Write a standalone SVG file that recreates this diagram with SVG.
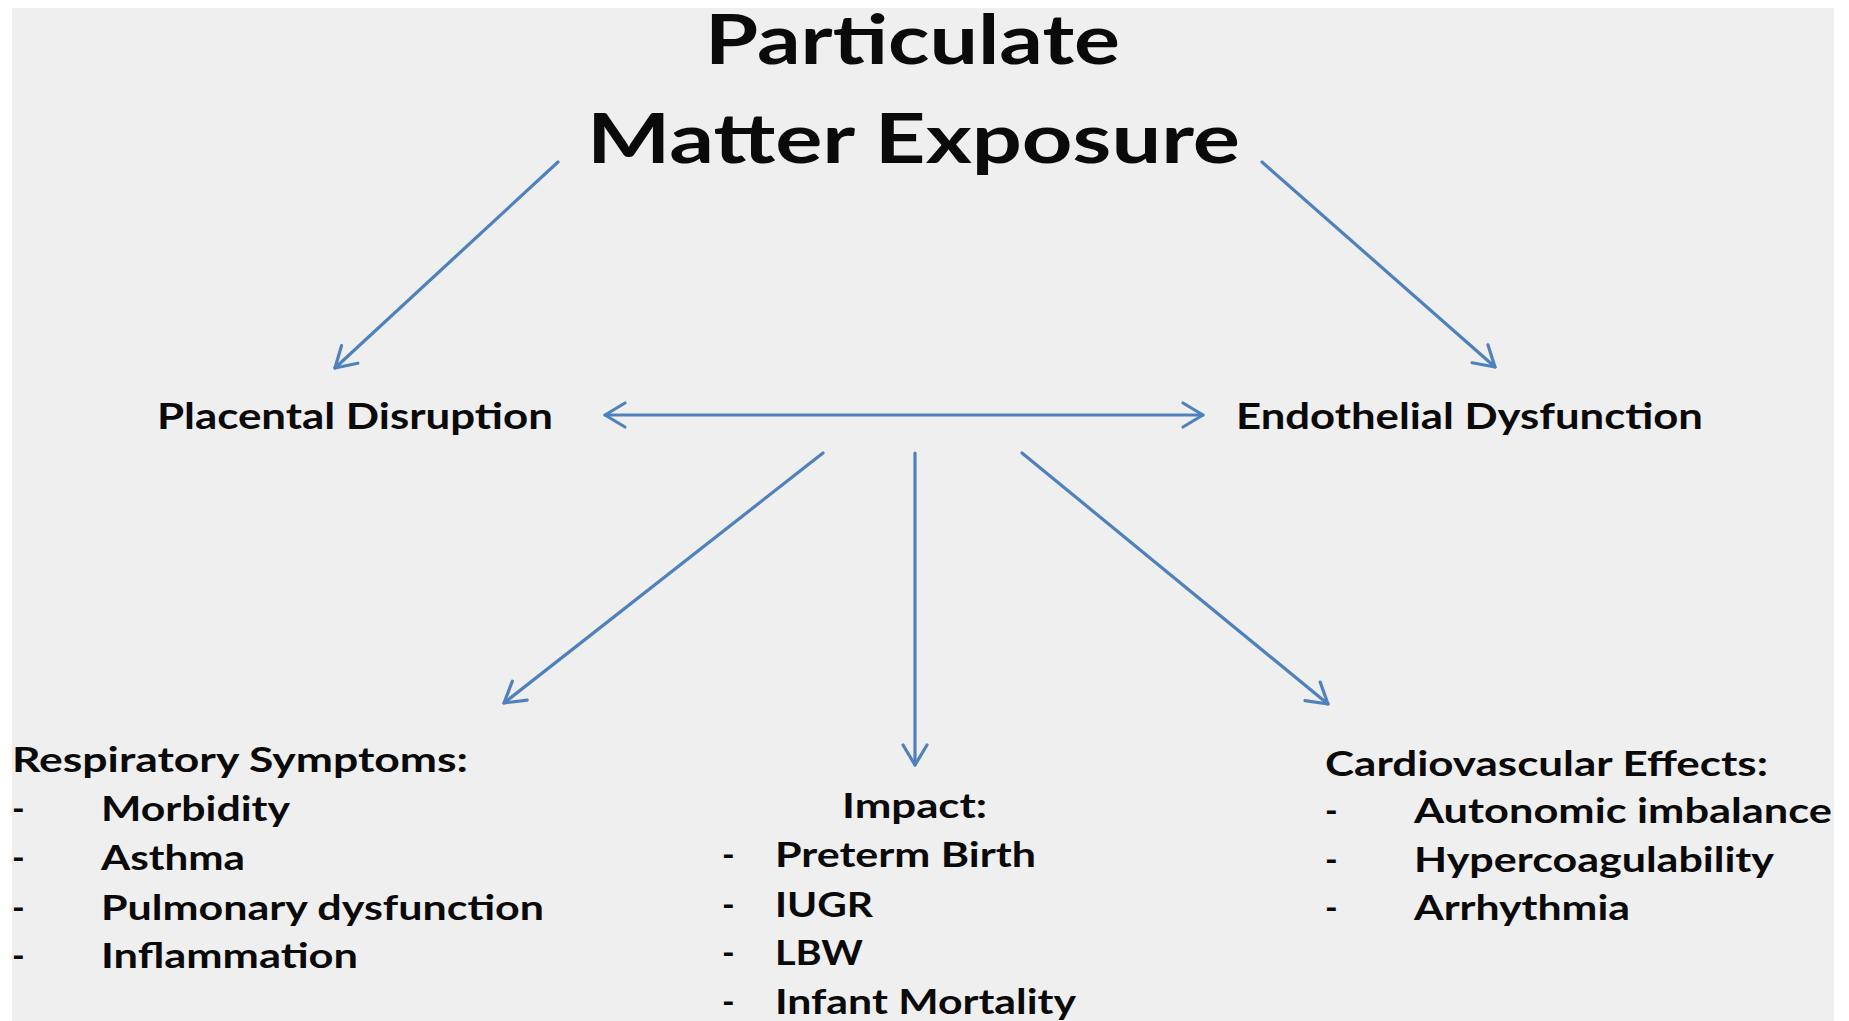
<svg xmlns="http://www.w3.org/2000/svg" width="1849" height="1021" viewBox="0 0 1849 1021">
  <style>
    .t { font-family: Lato, "Open Sans", "Liberation Sans", sans-serif; font-weight: bold; fill: #0a0a0a; }
    .title { font-size: 68px; }
    .node { font-size: 36px; }
    .list { font-size: 34px; }
    .conn { stroke: #4f81bd; stroke-width: 3.2; fill: none; stroke-linecap: round; }
  </style>
  <defs>
    <marker id="arr" markerUnits="userSpaceOnUse" markerWidth="30" markerHeight="30" refX="0" refY="0" viewBox="-24 -15 28 30" orient="auto-start-reverse" overflow="visible">
      <path d="M-20,-12 L0,0 L-20,12" fill="none" stroke="#4f81bd" stroke-width="3.2" stroke-linecap="round" stroke-linejoin="round"/>
    </marker>
  </defs>
  <rect x="0" y="0" width="1849" height="1021" fill="#ffffff"/>
  <rect x="12" y="8" width="1822" height="1013" fill="#efefef"/>

  <g id="title">
    <text class="t title" x="705" y="64" textLength="415" lengthAdjust="spacingAndGlyphs">Particulate</text>
    <text class="t title" x="587" y="163" textLength="653" lengthAdjust="spacingAndGlyphs">Matter Exposure</text>
  </g>

  <g id="placental">
    <text class="t node" x="157" y="429" textLength="396" lengthAdjust="spacingAndGlyphs">Placental Disruption</text>
  </g>

  <g id="endothelial">
    <text class="t node" x="1236" y="429" textLength="467" lengthAdjust="spacingAndGlyphs">Endothelial Dysfunction</text>
  </g>

  <g id="respiratory">
    <text class="t list" x="12" y="772" textLength="456" lengthAdjust="spacingAndGlyphs">Respiratory Symptoms:</text>
    <text class="t list" x="12" y="821">-</text>
    <text class="t list" x="101" y="821" textLength="189" lengthAdjust="spacingAndGlyphs">Morbidity</text>
    <text class="t list" x="12" y="870">-</text>
    <text class="t list" x="101" y="870" textLength="144" lengthAdjust="spacingAndGlyphs">Asthma</text>
    <text class="t list" x="12" y="920">-</text>
    <text class="t list" x="101" y="920" textLength="443" lengthAdjust="spacingAndGlyphs">Pulmonary dysfunction</text>
    <text class="t list" x="12" y="968">-</text>
    <text class="t list" x="101" y="968" textLength="257" lengthAdjust="spacingAndGlyphs">Inflammation</text>
  </g>

  <g id="impact">
    <text class="t list" x="842" y="818" textLength="145" lengthAdjust="spacingAndGlyphs">Impact:</text>
    <text class="t list" x="722" y="867">-</text>
    <text class="t list" x="775" y="867" textLength="261" lengthAdjust="spacingAndGlyphs">Preterm Birth</text>
    <text class="t list" x="722" y="917">-</text>
    <text class="t list" x="775" y="917" textLength="98" lengthAdjust="spacingAndGlyphs">IUGR</text>
    <text class="t list" x="722" y="965">-</text>
    <text class="t list" x="775" y="965" textLength="88" lengthAdjust="spacingAndGlyphs">LBW</text>
    <text class="t list" x="722" y="1014">-</text>
    <text class="t list" x="775" y="1014" textLength="301" lengthAdjust="spacingAndGlyphs">Infant Mortality</text>
  </g>

  <g id="cardiovascular">
    <text class="t list" x="1325" y="776" textLength="443" lengthAdjust="spacingAndGlyphs">Cardiovascular Effects:</text>
    <text class="t list" x="1325" y="823">-</text>
    <text class="t list" x="1414" y="823" textLength="418" lengthAdjust="spacingAndGlyphs">Autonomic imbalance</text>
    <text class="t list" x="1325" y="872">-</text>
    <text class="t list" x="1414" y="872" textLength="360" lengthAdjust="spacingAndGlyphs">Hypercoagulability</text>
    <text class="t list" x="1325" y="920">-</text>
    <text class="t list" x="1414" y="920" textLength="216" lengthAdjust="spacingAndGlyphs">Arrhythmia</text>
  </g>

  <g id="connectors">
    <line class="conn" x1="558" y1="162" x2="335" y2="368" marker-end="url(#arr)"/>
    <line class="conn" x1="1262" y1="162" x2="1495" y2="367" marker-end="url(#arr)"/>
    <line class="conn" x1="605" y1="415" x2="1203" y2="415" marker-start="url(#arr)" marker-end="url(#arr)"/>
    <line class="conn" x1="823" y1="453" x2="504" y2="703" marker-end="url(#arr)"/>
    <line class="conn" x1="915" y1="453" x2="915" y2="765" marker-end="url(#arr)"/>
    <line class="conn" x1="1022" y1="453" x2="1328" y2="704" marker-end="url(#arr)"/>
  </g>
</svg>
